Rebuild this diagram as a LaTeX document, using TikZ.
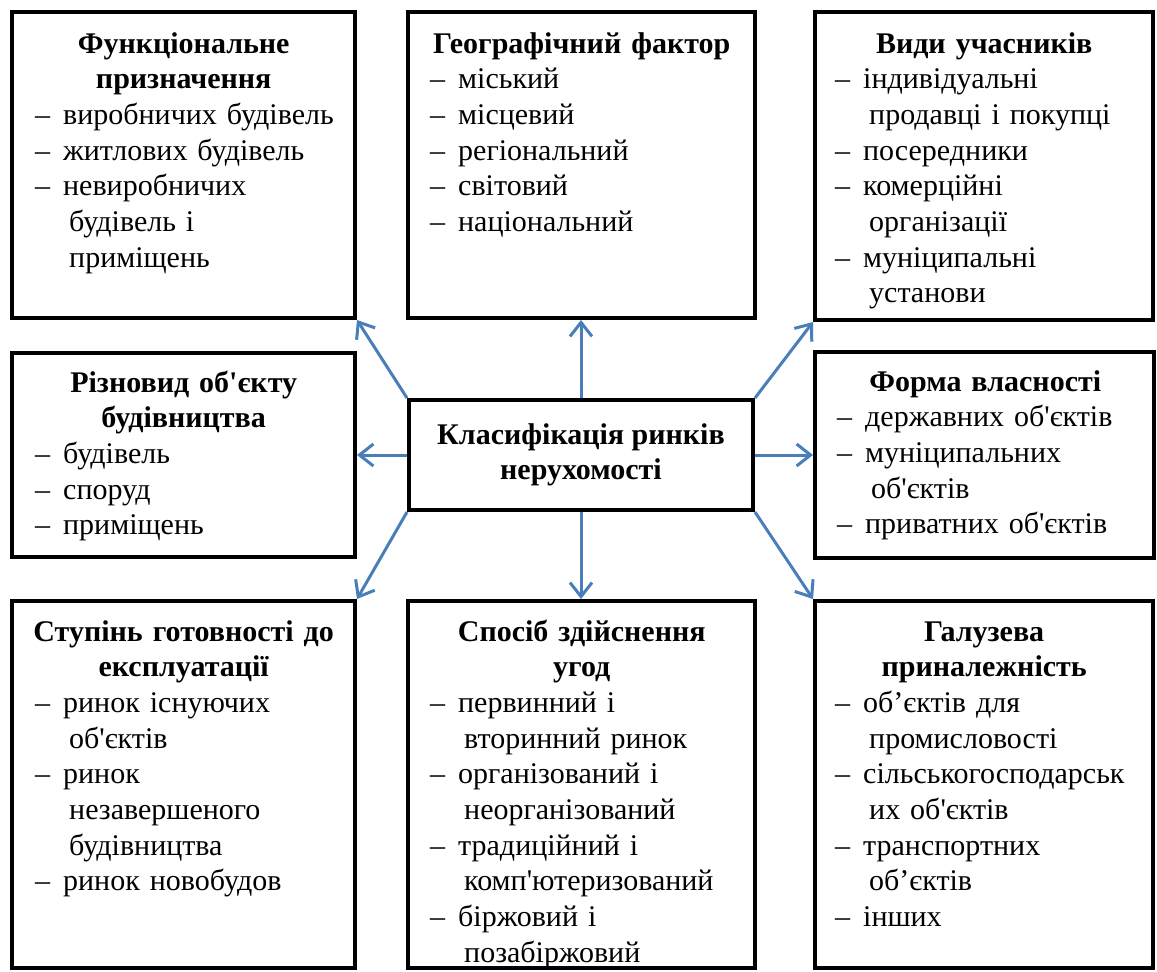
\documentclass[tikz,border=0pt]{standalone}
\usepackage{fontspec}
\setmainfont{Liberation Serif}[Ligatures=TeXOff]
\usetikzlibrary{arrows.meta}
\definecolor{arrowblue}{RGB}{74,126,187}
\newcommand\ttl[1]{\makebox[\linewidth]{\bfseries #1}}
\newcommand\itm[1]{\makebox[28pt][l]{–}\mbox{#1}}
\newcommand\cnt[1]{\hspace*{34pt}\mbox{#1}}
\begin{document}
\begin{tikzpicture}[x=1pt,y=-1pt,
  box/.style={draw=black, line width=4pt, fill=white, inner sep=0pt},
  txt/.style={anchor=base west, inner sep=0pt, align=left, font=\fontsize{30}{35.7}\selectfont},
  link/.style={draw=arrowblue, line width=3pt, -{Straight Barb[length=14pt,width=22pt]}}]
\useasboundingbox (0,0) rectangle (1157,972);
\fill[white] (0,0) rectangle (1157,972);
% boxes
\node[box, minimum width=343pt, minimum height=306pt] (b1) at (183.5,165) {};
\node[box, minimum width=347pt, minimum height=306pt] (b2) at (581,165) {};
\node[box, minimum width=338pt, minimum height=308pt] (b3) at (984,166) {};
\node[box, minimum width=343pt, minimum height=204pt] (b4) at (183.5,455) {};
\node[box, minimum width=339pt, minimum height=206pt] (b6) at (984.5,455) {};
\node[box, minimum width=343pt, minimum height=367pt] (b7) at (183.5,784.5) {};
\node[box, minimum width=347pt, minimum height=367pt] (b8) at (581,784.5) {};
\node[box, minimum width=338pt, minimum height=367pt] (b9) at (984,784.5) {};
\node[box, minimum width=344pt, minimum height=110pt, align=center,
      font=\fontsize{30}{35}\selectfont\bfseries] (c) at (581,455)
      {Класифікація ринків\\нерухомості};
% texts
\node[txt, text width=297pt] (t1) at (35,53)
  {\ttl{Функціональне}\\ \ttl{призначення}\\ \itm{виробничих будівель}\\ \itm{житлових будівель}\\ \itm{невиробничих}\\ \cnt{будівель і}\\ \cnt{приміщень}};
\node[txt, text width=303pt] (t2) at (430,53)
  {\ttl{Географічний фактор}\\ \itm{міський}\\ \itm{місцевий}\\ \itm{регіональний}\\ \itm{світовий}\\ \itm{національний}};
\node[txt, text width=298pt] (t3) at (835,53)
  {\ttl{Види учасників}\\ \itm{індивідуальні}\\ \cnt{продавці і покупці}\\ \itm{посередники}\\ \itm{комерційні}\\ \cnt{організації}\\ \itm{муніципальні}\\ \cnt{установи}};
\node[txt, text width=297pt] (t4) at (35,392)
  {\ttl{Різновид об'єкту}\\ \ttl{будівництва}\\ \itm{будівель}\\ \itm{споруд}\\ \itm{приміщень}};
\node[txt, text width=296pt] (t6) at (837,391)
  {\ttl{Форма власності}\\ \itm{державних об'єктів}\\ \itm{муніципальних}\\ \cnt{об'єктів}\\ \itm{приватних об'єктів}};
\node[txt, text width=297pt] (t7) at (35,641)
  {\ttl{Ступінь готовності до}\\ \ttl{експлуатації}\\ \itm{ринок існуючих}\\ \cnt{об'єктів}\\ \itm{ринок}\\ \cnt{незавершеного}\\ \cnt{будівництва}\\ \itm{ринок новобудов}};
\node[txt, text width=303pt] (t8) at (430,641)
  {\ttl{Спосіб здійснення}\\ \ttl{угод}\\ \itm{первинний і}\\ \cnt{вторинний ринок}\\ \itm{організований і}\\ \cnt{неорганізований}\\ \itm{традиційний і}\\ \cnt{комп'ютеризований}\\ \itm{біржовий і}\\ \cnt{позабіржовий}};
\node[txt, text width=298pt] (t9) at (835,641)
  {\ttl{Галузева}\\ \ttl{приналежність}\\ \itm{об’єктів для}\\ \cnt{промисловості}\\ \itm{сільськогосподарськ}\\ \cnt{их об'єктів}\\ \itm{транспортних}\\ \cnt{об’єктів}\\ \itm{інших}};
% connectors
\draw[link] (c.north) -- (b2.south);
\draw[link] (c.north west) -- (b1.south east);
\draw[link] (c.north east) -- (b3.south west);
\draw[link] (c.west) -- (b4.east);
\draw[link] (c.east) -- (b6.west);
\draw[link] (c.south west) -- (b7.north east);
\draw[link] (c.south) -- (b8.north);
\draw[link] (c.south east) -- (b9.north west);
\end{tikzpicture}
\end{document}
